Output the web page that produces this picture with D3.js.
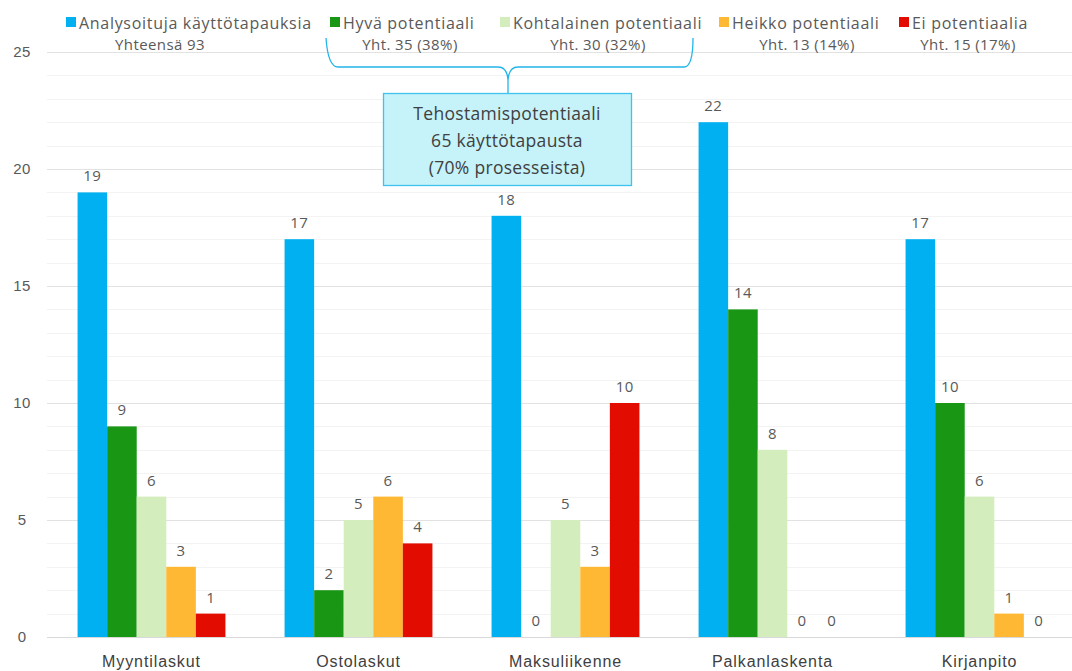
<!DOCTYPE html>
<html lang="fi">
<head>
<meta charset="UTF-8">
<title>Käyttötapaukset</title>
<script src="https://d3js.org/d3.v7.min.js"></script>
<style>
    body { margin: 0; background: #fff; }
    svg { font-family: "Open Sans", sans-serif; }
    .lbl { font-size: 15px; fill: #595959; letter-spacing: 0.4px; }
    .cat { font-size: 16px; fill: #404040; letter-spacing: 0.9px; }
</style>
</head>
<body>
<script>
const categories = ["Myyntilaskut", "Ostolaskut", "Maksuliikenne", "Palkanlaskenta", "Kirjanpito"];
const seriesNames = ["Analysoituja käyttötapauksia", "Hyvä potentiaali", "Kohtalainen potentiaali", "Heikko potentiaali", "Ei potentiaalia"];
const seriesTotals = ["Yhteensä 93", "Yht. 35 (38%)", "Yht. 30 (32%)", "Yht. 13 (14%)", "Yht. 15 (17%)"];
const analysed = [19, 17, 18, 22, 17];
const good = [9, 2, 0, 14, 10];
const moderate = [6, 5, 5, 8, 6];
const weak = [3, 6, 3, 0, 1];
const none = [1, 4, 10, 0, 0];
const yTicks = [0, 5, 10, 15, 20, 25];
const boxLines = ["Tehostamispotentiaali", "65 käyttötapausta", "(70% prosesseista)"];

const colors = ["#00b0f0", "#1a9615", "#d4edbc", "#ffb833", "#e20c00"];
const series = [analysed, good, moderate, weak, none];

const width = 1072, height = 671;
const svg = d3.select("body").append("svg")
    .attr("width", width)
    .attr("height", height);

// scales
const x = d3.scaleBand().domain(categories).range([48, 1083]);
const x1 = d3.scaleBand().domain(d3.range(5)).range([0, x.bandwidth()]).paddingOuter(1);
const y = d3.scaleLinear().domain([0, 25]).range([637, 52]);

// gridlines every unit
svg.append("g").selectAll("line")
    .data(d3.range(1, 26))
    .join("line")
    .attr("x1", 47).attr("x2", width)
    .attr("y1", d => Math.round(y(d)) + 0.5)
    .attr("y2", d => Math.round(y(d)) + 0.5)
    .attr("stroke", d => d % 5 === 0 ? "#e2e2e2" : "#f3f3f3");

// y axis labels
const yAxis = svg.append("g")
    .attr("transform", "translate(30,0)")
    .call(d3.axisLeft(y).tickValues(yTicks).tickSize(0).tickPadding(0));
yAxis.select(".domain").remove();
yAxis.selectAll("text")
    .attr("class", "lbl")
    .attr("text-anchor", "middle")
    .attr("x", -8)
    .attr("font-family", null)
    .attr("font-size", null);

// bars
const groups = svg.append("g").selectAll("g")
    .data(categories)
    .join("g")
    .attr("transform", d => `translate(${x(d)},0)`);

groups.selectAll("rect")
    .data((c, i) => series.map((s, k) => ({ k, v: s[i] })))
    .join("rect")
    .attr("x", d => x1(d.k))
    .attr("width", x1.bandwidth())
    .attr("y", d => y(d.v))
    .attr("height", d => y(0) - y(d.v))
    .attr("fill", d => colors[d.k]);

groups.selectAll("text")
    .data((c, i) => series.map((s, k) => ({ k, v: s[i] })))
    .join("text")
    .attr("class", "lbl")
    .attr("text-anchor", "middle")
    .attr("x", d => x1(d.k) + x1.bandwidth() / 2)
    .attr("y", d => y(d.v) - 11)
    .text(d => d.v);

// baseline
svg.append("line")
    .attr("x1", 47).attr("x2", width)
    .attr("y1", y(0) + 0.5).attr("y2", y(0) + 0.5)
    .attr("stroke", "#d9d9d9");

// category labels
const xAxis = svg.append("g")
    .attr("transform", `translate(0,${y(0)})`)
    .call(d3.axisBottom(x).tickSize(0).tickPadding(0));
xAxis.select(".domain").remove();
xAxis.selectAll("text")
    .attr("class", "cat")
    .attr("dy", null)
    .attr("y", 30)
    .attr("font-family", null)
    .attr("font-size", null);

// legend
const legendX = [66, 330, 500, 719, 899];
const totalX = [160, 410, 598, 807, 968];
const legend = svg.append("g").selectAll("g")
    .data(seriesNames)
    .join("g")
    .attr("transform", (d, i) => `translate(${legendX[i]},0)`);
legend.append("rect")
    .attr("x", 0).attr("y", 17)
    .attr("width", 10).attr("height", 10)
    .attr("fill", (d, i) => colors[i]);
legend.append("text")
    .attr("class", "lbl")
    .attr("x", 13).attr("y", 29)
    .style("font-size", "16px")
    .style("letter-spacing", "0.7px")
    .text(d => d);
svg.append("g").selectAll("text")
    .data(seriesTotals)
    .join("text")
    .attr("class", "lbl")
    .attr("text-anchor", "middle")
    .attr("x", (d, i) => totalX[i])
    .attr("y", 50)
    .text(d => d);

// brace
const brace = d3.path();
brace.moveTo(326, 38);
brace.quadraticCurveTo(328, 67, 338, 67);
brace.lineTo(498, 67);
brace.quadraticCurveTo(507, 67, 508, 80);
brace.lineTo(508, 93);
brace.moveTo(508, 80);
brace.quadraticCurveTo(509, 67, 518, 67);
brace.lineTo(684, 67);
brace.quadraticCurveTo(693, 67, 693, 38);
svg.append("path")
    .attr("d", brace.toString())
    .attr("fill", "none")
    .attr("stroke", "#22b5ea")
    .attr("stroke-width", 1.3);

// callout box
svg.append("rect")
    .attr("x", 383.5).attr("y", 93.5)
    .attr("width", 248).attr("height", 92)
    .attr("fill", "#c6f2f9")
    .attr("stroke", "#3fc3ee")
    .attr("stroke-width", 1.3);
svg.append("g").selectAll("text")
    .data(boxLines)
    .join("text")
    .attr("text-anchor", "middle")
    .attr("x", 507)
    .attr("y", (d, i) => 120 + i * 27)
    .attr("fill", "#404040")
    .style("font-size", "17.5px")
    .style("letter-spacing", "0.3px")
    .text(d => d);
</script>
</body>
</html>
